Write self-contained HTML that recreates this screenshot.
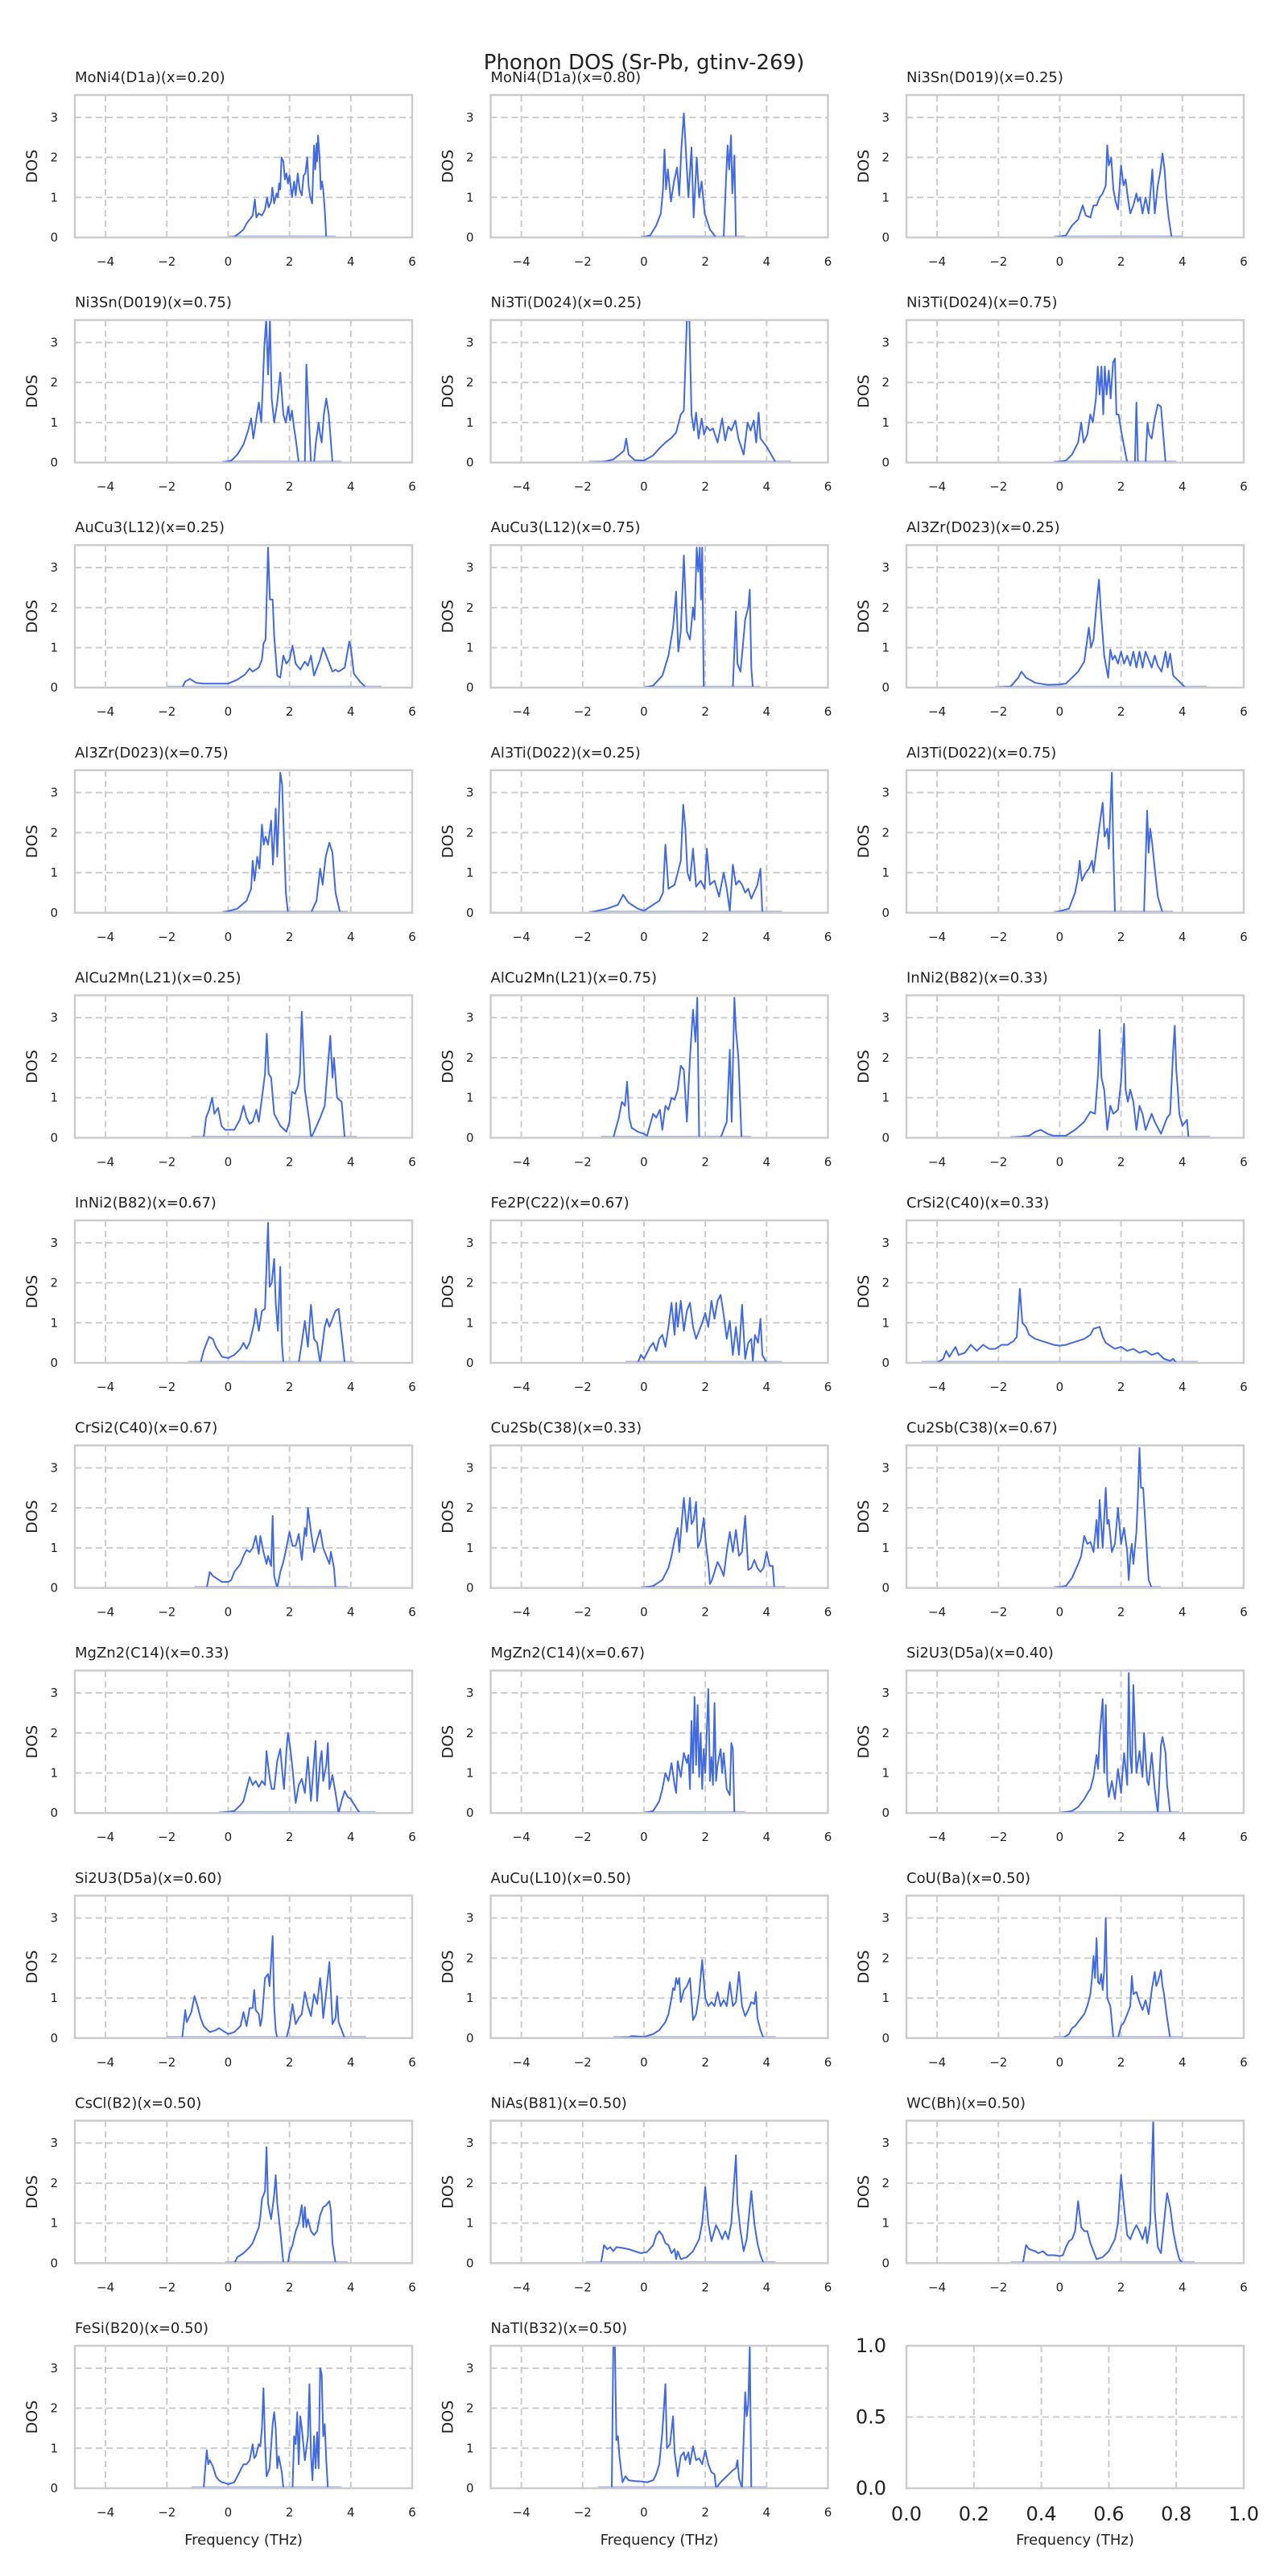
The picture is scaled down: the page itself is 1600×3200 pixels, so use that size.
<!DOCTYPE html>
<html><head><meta charset="utf-8"><style>
html,body{margin:0;padding:0;background:#fff;}
svg{display:block;font-family:"DejaVu Sans","Liberation Sans",sans-serif;}
</style></head><body>
<svg id="fig" width="1600" height="3200" viewBox="0 0 1600 3200" xmlns="http://www.w3.org/2000/svg">
<rect width="1600" height="3200" fill="#fff"/>
<text x="800" y="86" text-anchor="middle" font-size="26" fill="#222">Phonon DOS (Sr-Pb, gtinv-269)</text>
</svg>
<script>
const titles = ["MoNi4(D1a)(x=0.20)","MoNi4(D1a)(x=0.80)","Ni3Sn(D019)(x=0.25)","Ni3Sn(D019)(x=0.75)","Ni3Ti(D024)(x=0.25)","Ni3Ti(D024)(x=0.75)","AuCu3(L12)(x=0.25)","AuCu3(L12)(x=0.75)","Al3Zr(D023)(x=0.25)","Al3Zr(D023)(x=0.75)","Al3Ti(D022)(x=0.25)","Al3Ti(D022)(x=0.75)","AlCu2Mn(L21)(x=0.25)","AlCu2Mn(L21)(x=0.75)","InNi2(B82)(x=0.33)","InNi2(B82)(x=0.67)","Fe2P(C22)(x=0.67)","CrSi2(C40)(x=0.33)","CrSi2(C40)(x=0.67)","Cu2Sb(C38)(x=0.33)","Cu2Sb(C38)(x=0.67)","MgZn2(C14)(x=0.33)","MgZn2(C14)(x=0.67)","Si2U3(D5a)(x=0.40)","Si2U3(D5a)(x=0.60)","AuCu(L10)(x=0.50)","CoU(Ba)(x=0.50)","CsCl(B2)(x=0.50)","NiAs(B81)(x=0.50)","WC(Bh)(x=0.50)","FeSi(B20)(x=0.50)","NaTl(B32)(x=0.50)"];
const xTicks = [-4,-2,0,2,4,6];
const yTicks = [0,1,2,3];
const emptyXTicks = ["0.0","0.2","0.4","0.6","0.8","1.0"];
const emptyYTicks = ["0.0","0.5","1.0"];
// series: [frequency THz, DOS]
const s0=[[0,0],[0.2,0.02],[0.35,0.1],[0.5,0.2],[0.6,0.35],[0.7,0.45],[0.8,0.55],[0.87,0.95],[0.92,0.5],[1.0,0.6],[1.1,0.55],[1.2,0.7],[1.27,1.0],[1.32,0.75],[1.4,0.9],[1.44,1.25],[1.5,0.85],[1.58,1.1],[1.62,1.0],[1.66,1.35],[1.7,1.2],[1.74,2.0],[1.8,1.9],[1.85,1.45],[1.9,1.6],[1.95,1.35],[2.0,1.55],[2.08,1.0],[2.15,1.4],[2.2,1.05],[2.27,1.6],[2.33,1.2],[2.4,1.05],[2.46,1.55],[2.52,1.6],[2.58,2.0],[2.62,1.3],[2.68,1.0],[2.74,0.85],[2.8,2.3],[2.84,1.7],[2.88,2.35],[2.9,1.9],[2.93,2.55],[2.98,2.0],[3.02,1.2],[3.06,1.4],[3.1,1.2],[3.15,0.7],[3.2,0],[3.5,0]];
const s1=[[-0.1,0],[0.2,0.05],[0.4,0.3],[0.55,0.6],[0.62,1.2],[0.67,2.2],[0.72,1.2],[0.78,1.7],[0.88,0.9],[0.98,1.4],[1.08,1.75],[1.15,1.05],[1.22,2.2],[1.3,3.1],[1.36,2.25],[1.45,1.0],[1.55,2.25],[1.62,0.5],[1.72,2.0],[1.8,1.0],[1.88,1.4],[1.98,0.6],[2.15,0.2],[2.35,0],[2.6,0],[2.68,1.5],[2.73,2.3],[2.78,1.7],[2.84,2.55],[2.88,1.1],[2.95,2.05],[3.0,0],[3.3,0]];
const s2=[[-0.2,0],[0.2,0.05],[0.4,0.3],[0.6,0.45],[0.75,0.8],[0.85,0.55],[1.0,0.5],[1.1,0.8],[1.2,0.8],[1.3,1.0],[1.4,1.1],[1.5,1.3],[1.55,2.3],[1.6,1.8],[1.68,2.0],[1.75,1.2],[1.82,0.9],[1.9,0.7],[2.0,1.8],[2.08,1.3],[2.15,1.45],[2.22,1.0],[2.3,0.6],[2.4,0.8],[2.5,1.1],[2.55,0.9],[2.62,1.0],[2.7,0.6],[2.8,1.0],[2.9,0.6],[3.02,1.7],[3.1,0.6],[3.2,1.3],[3.28,1.65],[3.35,2.1],[3.42,1.7],[3.48,1.0],[3.55,0.5],[3.65,0],[4.0,0]];
const s3=[[-0.2,0],[0.1,0.05],[0.3,0.2],[0.5,0.45],[0.65,0.8],[0.75,1.1],[0.82,0.6],[0.9,1.0],[1.0,1.5],[1.08,1.0],[1.18,2.9],[1.24,3.6],[1.3,2.2],[1.36,3.6],[1.42,1.6],[1.5,1.0],[1.6,1.5],[1.7,2.25],[1.8,1.2],[1.88,1.0],[1.96,1.4],[2.02,1.05],[2.08,1.3],[2.14,0.9],[2.2,0.6],[2.3,0],[2.5,0],[2.55,2.45],[2.6,1.6],[2.7,0],[2.8,0],[2.86,0.5],[2.95,1.0],[3.0,0.7],[3.05,0.5],[3.12,1.2],[3.2,1.6],[3.28,1.2],[3.35,0.5],[3.4,0],[3.7,0]];
const s4=[[-1.8,0],[-1.3,0.02],[-1.0,0.08],[-0.8,0.2],[-0.65,0.3],[-0.58,0.6],[-0.5,0.2],[-0.3,0.06],[0,0.05],[0.3,0.18],[0.5,0.35],[0.7,0.5],[0.9,0.62],[1.05,0.75],[1.2,1.2],[1.3,1.3],[1.4,3.6],[1.48,3.6],[1.55,1.2],[1.63,0.8],[1.7,1.25],[1.78,0.6],[1.88,1.1],[1.96,0.7],[2.05,0.9],[2.15,0.8],[2.25,0.85],[2.4,0.5],[2.55,1.1],[2.65,0.55],[2.75,0.9],[2.85,0.8],[2.98,1.05],[3.08,0.6],[3.25,0.2],[3.38,1.0],[3.48,0.8],[3.58,1.05],[3.66,0.5],[3.74,1.25],[3.8,0.6],[4.0,0.4],[4.15,0.2],[4.3,0],[4.8,0]];
const s5=[[-0.2,0],[0.2,0.05],[0.4,0.2],[0.6,0.5],[0.7,1.0],[0.78,0.5],[0.9,0.7],[1.0,1.2],[1.08,1.0],[1.18,1.6],[1.24,2.4],[1.3,1.7],[1.36,2.4],[1.42,1.2],[1.47,2.4],[1.53,1.7],[1.6,2.3],[1.66,1.6],[1.74,2.5],[1.8,2.6],[1.85,1.2],[1.92,1.2],[2.0,0.8],[2.1,0.4],[2.2,0],[2.45,0],[2.5,1.5],[2.55,0],[2.8,0],[2.86,1.0],[2.92,0.7],[3.0,0.6],[3.1,1.1],[3.2,1.45],[3.3,1.4],[3.45,0],[3.8,0]];
const s6=[[-2.0,0],[-1.5,0],[-1.4,0.15],[-1.25,0.22],[-1.05,0.12],[-0.8,0.1],[-0.3,0.1],[0,0.1],[0.3,0.2],[0.55,0.33],[0.7,0.48],[0.8,0.4],[1.0,0.5],[1.1,0.7],[1.15,1.1],[1.22,1.2],[1.3,3.5],[1.36,2.2],[1.45,2.2],[1.5,1.3],[1.6,0.3],[1.7,0.25],[1.8,0.8],[1.9,0.6],[2.0,0.7],[2.1,1.05],[2.2,0.6],[2.35,0.45],[2.5,0.65],[2.6,0.55],[2.7,0.8],[2.8,0.3],[3.0,0.7],[3.1,1.0],[3.2,0.8],[3.3,0.6],[3.4,0.4],[3.5,0.45],[3.6,0.4],[3.8,0.5],[3.95,1.15],[4.0,1.0],[4.1,0.35],[4.3,0.15],[4.5,0],[5.0,0]];
const s7=[[0,0],[0.3,0.05],[0.6,0.3],[0.8,0.8],[0.95,1.5],[1.05,2.4],[1.12,0.9],[1.2,1.4],[1.3,3.3],[1.4,1.4],[1.5,1.2],[1.6,2.0],[1.65,1.7],[1.72,3.5],[1.77,2.9],[1.82,3.5],[1.86,2.2],[1.9,3.5],[1.95,0],[2.9,0],[3.0,1.9],[3.05,0.6],[3.15,0.4],[3.22,1.0],[3.3,1.7],[3.4,2.0],[3.45,2.45],[3.5,0.5],[3.55,0],[3.8,0]];
const s8=[[-2.1,0],[-1.6,0.03],[-1.35,0.25],[-1.25,0.4],[-1.1,0.25],[-0.8,0.12],[-0.4,0.07],[0,0.08],[0.2,0.1],[0.4,0.25],[0.6,0.4],[0.8,0.65],[0.95,1.5],[1.02,1.0],[1.1,1.2],[1.2,2.1],[1.28,2.7],[1.35,1.8],[1.45,0.8],[1.58,0.25],[1.65,0.95],[1.72,0.7],[1.8,0.8],[1.9,0.6],[2.0,0.9],[2.1,0.6],[2.2,0.8],[2.3,0.55],[2.4,0.9],[2.5,0.5],[2.6,0.9],[2.7,0.5],[2.8,0.9],[2.9,0.7],[3.0,0.5],[3.1,0.8],[3.2,0.55],[3.32,0.4],[3.45,0.9],[3.52,0.5],[3.6,0.85],[3.7,0.3],[3.9,0.15],[4.1,0],[4.8,0]];
const s9=[[-0.2,0],[0.3,0.1],[0.6,0.3],[0.75,0.6],[0.8,1.3],[0.86,0.8],[0.95,1.4],[1.02,1.1],[1.1,2.2],[1.16,1.7],[1.22,1.9],[1.3,1.7],[1.4,2.3],[1.46,1.2],[1.55,2.6],[1.6,1.4],[1.7,3.5],[1.76,3.2],[1.8,2.3],[1.88,0.5],[1.95,0],[2.7,0],[2.88,0.3],[3.0,1.1],[3.08,0.7],[3.18,1.4],[3.3,1.75],[3.4,1.5],[3.5,0.5],[3.65,0],[3.9,0]];
const s10=[[-1.8,0],[-1.2,0.1],[-0.85,0.2],[-0.68,0.45],[-0.5,0.25],[-0.2,0.1],[0,0.05],[0.3,0.2],[0.5,0.3],[0.62,0.5],[0.7,1.7],[0.8,0.6],[1.0,0.7],[1.2,1.3],[1.28,2.7],[1.35,2.1],[1.42,1.0],[1.5,0.8],[1.6,1.6],[1.7,0.65],[1.85,0.8],[1.98,0.6],[2.05,1.6],[2.15,0.7],[2.3,0.8],[2.45,0.4],[2.6,1.0],[2.7,0.6],[2.8,0.05],[2.9,1.2],[3.0,0.7],[3.1,0.8],[3.2,0.7],[3.3,0.5],[3.4,0.6],[3.5,0.35],[3.7,0.7],[3.8,1.1],[3.86,0],[4.5,0]];
const s11=[[-0.2,0],[0.3,0.1],[0.5,0.5],[0.6,0.9],[0.65,1.3],[0.72,0.8],[0.85,1.0],[0.95,1.1],[1.05,1.3],[1.1,1.0],[1.2,1.6],[1.3,2.2],[1.4,2.75],[1.46,1.9],[1.55,2.1],[1.6,1.6],[1.7,3.5],[1.75,1.5],[1.8,0],[2.75,0],[2.85,2.55],[2.9,1.5],[2.95,2.1],[3.02,1.7],[3.1,1.1],[3.2,0.4],[3.35,0],[3.7,0]];
const s12=[[-1.2,0],[-0.8,0],[-0.72,0.5],[-0.62,0.7],[-0.52,1.0],[-0.45,0.6],[-0.33,0.75],[-0.22,0.3],[-0.1,0.2],[0.2,0.2],[0.38,0.45],[0.5,0.8],[0.6,0.5],[0.7,0.35],[0.8,0.4],[0.92,0.7],[1.0,0.4],[1.1,1.0],[1.2,1.6],[1.26,2.6],[1.32,1.6],[1.4,1.5],[1.5,0.6],[1.7,0.3],[1.9,0.15],[2.0,0.4],[2.08,1.15],[2.18,1.1],[2.28,1.3],[2.34,1.6],[2.4,3.15],[2.5,1.2],[2.65,0.4],[2.7,0],[2.8,0.15],[3.0,0.5],[3.15,0.8],[3.33,2.55],[3.4,1.5],[3.45,2.0],[3.55,1.0],[3.7,0.9],[3.8,0],[4.2,0]];
const s13=[[-1.4,0],[-1.0,0],[-0.82,0.5],[-0.72,0.9],[-0.62,0.8],[-0.55,1.4],[-0.48,0.5],[-0.4,0.25],[-0.2,0.15],[0,0.1],[0.1,0.05],[0.3,0.6],[0.4,0.5],[0.52,0.7],[0.6,0.2],[0.7,0.8],[0.8,0.7],[0.9,1.0],[1.0,0.95],[1.1,1.2],[1.2,1.8],[1.3,1.7],[1.4,0.4],[1.5,2.0],[1.6,3.2],[1.68,2.4],[1.74,3.5],[1.8,0],[2.5,0],[2.7,0.4],[2.8,2.2],[2.86,0.4],[2.95,3.5],[3.0,2.7],[3.08,2.0],[3.18,0],[3.5,0]];
const s14=[[-1.6,0],[-1.0,0.05],[-0.8,0.15],[-0.62,0.2],[-0.4,0.1],[-0.2,0.05],[0.2,0.05],[0.5,0.2],[0.8,0.4],[1.0,0.65],[1.15,0.6],[1.25,1.6],[1.3,2.7],[1.36,1.5],[1.45,1.2],[1.55,0.2],[1.65,0.8],[1.75,0.6],[1.9,0.7],[2.0,1.4],[2.1,2.85],[2.15,1.2],[2.22,0.9],[2.3,1.2],[2.4,0.9],[2.5,0.2],[2.6,0.8],[2.7,0.6],[2.8,0.2],[3.0,0.6],[3.1,0.4],[3.3,0.1],[3.5,0.5],[3.6,0.6],[3.7,2.2],[3.75,2.8],[3.8,1.7],[3.85,1.2],[3.9,0.6],[4.0,0.3],[4.15,0.45],[4.2,0],[4.9,0]];
const s15=[[-1.3,0],[-0.9,0],[-0.8,0.3],[-0.7,0.5],[-0.62,0.65],[-0.5,0.6],[-0.4,0.4],[-0.2,0.15],[0,0.12],[0.2,0.2],[0.4,0.35],[0.5,0.5],[0.6,0.35],[0.7,0.5],[0.85,1.0],[0.9,1.35],[1.0,0.8],[1.1,1.3],[1.2,1.35],[1.3,3.5],[1.35,1.9],[1.42,2.0],[1.5,2.6],[1.55,1.5],[1.62,0.8],[1.7,2.4],[1.75,0.5],[1.8,0],[2.3,0],[2.4,0.5],[2.5,1.05],[2.6,0.4],[2.7,1.45],[2.8,0.6],[2.9,0.5],[3.0,0],[3.15,0.9],[3.22,1.1],[3.3,0.9],[3.4,1.1],[3.5,1.3],[3.6,1.35],[3.7,0.7],[3.8,0],[4.1,0]];
const s16=[[-0.6,0],[-0.2,0],[-0.1,0.2],[0,0.1],[0.2,0.4],[0.3,0.5],[0.4,0.3],[0.5,0.6],[0.6,0.7],[0.7,0.4],[0.8,0.9],[0.9,1.5],[1.0,0.7],[1.05,1.5],[1.1,0.9],[1.2,1.55],[1.3,0.8],[1.4,1.3],[1.5,1.5],[1.6,0.9],[1.7,0.6],[1.8,0.8],[1.9,1.0],[2.0,1.25],[2.1,0.9],[2.2,1.55],[2.3,1.1],[2.4,1.55],[2.5,1.7],[2.6,1.2],[2.7,0.6],[2.8,1.05],[2.9,0.2],[3.0,0.9],[3.1,0.2],[3.2,1.45],[3.3,0.1],[3.4,0.5],[3.5,0.6],[3.55,0.05],[3.62,0.7],[3.72,0.5],[3.8,1.1],[3.86,0.2],[4.0,0],[4.5,0]];
const s17=[[-4.5,0],[-4.0,0],[-3.8,0.1],[-3.7,0.3],[-3.6,0.15],[-3.4,0.4],[-3.3,0.2],[-3.1,0.25],[-2.9,0.45],[-2.7,0.3],[-2.5,0.45],[-2.3,0.35],[-2.1,0.35],[-1.9,0.45],[-1.7,0.45],[-1.5,0.55],[-1.4,0.65],[-1.3,1.85],[-1.22,1.0],[-1.1,0.9],[-1.0,0.7],[-0.8,0.6],[-0.6,0.55],[-0.4,0.5],[-0.2,0.45],[0,0.43],[0.2,0.45],[0.4,0.5],[0.6,0.55],[0.8,0.6],[1.0,0.7],[1.1,0.85],[1.3,0.9],[1.4,0.65],[1.5,0.5],[1.6,0.45],[1.8,0.35],[2.0,0.4],[2.2,0.3],[2.4,0.35],[2.6,0.25],[2.8,0.3],[3.0,0.2],[3.2,0.25],[3.4,0.1],[3.6,0.05],[3.7,0.1],[3.8,0],[4.5,0]];
const s18=[[-1.1,0],[-0.7,0],[-0.6,0.4],[-0.5,0.3],[-0.3,0.2],[-0.2,0.15],[0,0.15],[0.1,0.2],[0.2,0.4],[0.4,0.6],[0.5,0.8],[0.6,0.95],[0.7,0.9],[0.8,1.0],[0.9,1.3],[1.0,0.85],[1.05,1.3],[1.15,0.9],[1.25,0.6],[1.3,0.8],[1.4,0.55],[1.45,1.8],[1.5,0.3],[1.6,0],[1.7,0.4],[1.8,0.65],[1.9,1.0],[2.0,1.4],[2.1,1.05],[2.2,1.05],[2.3,1.35],[2.4,0.7],[2.5,1.5],[2.55,1.3],[2.6,2.0],[2.7,1.4],[2.8,0.9],[2.9,1.2],[3.0,1.45],[3.1,1.0],[3.2,0.8],[3.3,0.6],[3.35,0.9],[3.45,0.5],[3.5,0],[3.9,0]];
const s19=[[-0.1,0],[0.3,0.05],[0.6,0.2],[0.8,0.5],[0.9,0.8],[1.0,1.2],[1.1,1.5],[1.15,0.9],[1.3,2.25],[1.4,1.4],[1.5,2.25],[1.55,1.6],[1.62,1.7],[1.7,2.15],[1.76,1.0],[1.85,1.2],[1.95,1.75],[2.02,1.1],[2.1,0.6],[2.15,0.1],[2.22,0.2],[2.3,0.4],[2.4,0.65],[2.5,0.5],[2.6,0.3],[2.7,0.9],[2.8,1.4],[2.9,0.9],[3.0,1.45],[3.1,0.8],[3.2,0.9],[3.3,1.8],[3.4,0.45],[3.5,0.5],[3.6,0.7],[3.7,0.5],[3.8,0.4],[3.9,0.5],[4.0,0.9],[4.1,0.55],[4.2,0.55],[4.25,0],[4.6,0]];
const s20=[[-0.2,0],[0.2,0.05],[0.4,0.25],[0.6,0.6],[0.7,0.8],[0.8,1.3],[0.9,1.1],[1.0,1.15],[1.1,0.9],[1.2,1.7],[1.25,1.0],[1.3,2.2],[1.4,1.0],[1.5,2.5],[1.55,1.6],[1.6,1.7],[1.7,0.9],[1.8,1.1],[1.9,2.0],[2.0,1.1],[2.1,1.5],[2.2,0.9],[2.25,0.2],[2.3,0.8],[2.35,1.1],[2.4,0.6],[2.5,1.4],[2.55,2.3],[2.6,3.5],[2.65,2.5],[2.72,2.5],[2.8,1.5],[2.85,0.8],[2.9,0.2],[3.0,0],[3.3,0]];
const s21=[[-0.3,0],[0.2,0.05],[0.4,0.2],[0.5,0.3],[0.6,0.6],[0.7,0.9],[0.8,0.7],[0.9,0.8],[1.0,0.65],[1.1,0.8],[1.2,0.7],[1.25,1.55],[1.3,1.2],[1.35,0.9],[1.42,0.6],[1.5,0.6],[1.6,1.3],[1.7,1.6],[1.75,1.15],[1.82,0.6],[1.9,1.55],[1.95,2.0],[2.02,1.65],[2.1,1.1],[2.2,0.25],[2.3,0.7],[2.4,0.85],[2.5,0.5],[2.6,1.4],[2.7,0.3],[2.8,1.3],[2.85,1.8],[2.9,0.3],[3.0,1.3],[3.05,1.55],[3.1,0.8],[3.2,1.2],[3.25,1.75],[3.3,0.6],[3.4,0.95],[3.5,0.5],[3.6,0],[3.7,0.3],[3.8,0.55],[3.9,0.4],[4.0,0.35],[4.2,0.1],[4.3,0],[4.8,0]];
const s22=[[0,0],[0.3,0.05],[0.5,0.3],[0.6,0.6],[0.7,1.0],[0.8,0.8],[0.9,1.25],[1.0,0.7],[1.05,0.5],[1.1,1.3],[1.2,0.9],[1.3,1.5],[1.4,1.25],[1.45,1.45],[1.5,0.6],[1.55,2.3],[1.6,1.0],[1.65,2.9],[1.7,1.2],[1.75,2.7],[1.8,0.9],[1.85,2.0],[1.9,0.6],[1.95,1.6],[2.0,1.0],[2.05,2.0],[2.1,3.1],[2.15,0.8],[2.2,1.4],[2.25,0.7],[2.3,2.75],[2.35,0.8],[2.4,1.2],[2.5,1.6],[2.55,1.0],[2.6,1.5],[2.7,0.6],[2.8,0.45],[2.85,1.75],[2.9,1.6],[2.95,0],[3.3,0]];
const s23=[[0,0],[0.4,0.05],[0.6,0.15],[0.8,0.35],[0.95,0.55],[1.0,0.6],[1.1,0.9],[1.2,1.45],[1.25,1.1],[1.3,1.9],[1.4,2.85],[1.45,1.0],[1.5,2.7],[1.55,0.8],[1.6,0.4],[1.7,0.8],[1.8,0.35],[1.9,1.1],[2.0,0.5],[2.1,1.5],[2.2,0.7],[2.25,3.5],[2.3,1.4],[2.35,1.0],[2.4,3.2],[2.5,1.0],[2.6,1.55],[2.7,0.9],[2.75,2.0],[2.85,0.8],[2.9,0.7],[3.0,1.5],[3.1,0.6],[3.2,0],[3.3,1.7],[3.35,1.9],[3.45,1.5],[3.5,0.7],[3.6,0],[3.9,0]];
const s24=[[-2.0,0],[-1.5,0],[-1.4,0.7],[-1.35,0.4],[-1.2,0.65],[-1.1,1.05],[-1.0,0.8],[-0.9,0.5],[-0.8,0.3],[-0.6,0.15],[-0.4,0.2],[-0.3,0.25],[-0.2,0.2],[0,0.1],[0.2,0.15],[0.4,0.3],[0.5,0.65],[0.6,0.3],[0.7,0.75],[0.8,0.75],[0.85,1.2],[0.9,0.7],[1.0,0.6],[1.05,0.3],[1.1,0.5],[1.2,1.5],[1.3,1.6],[1.35,1.3],[1.45,2.55],[1.5,0.8],[1.55,0.2],[1.6,0],[1.9,0],[2.0,0.3],[2.1,0.85],[2.2,0.35],[2.3,0.5],[2.4,0.6],[2.5,1.15],[2.6,0.8],[2.7,0.55],[2.8,1.1],[2.9,0.85],[3.0,1.5],[3.05,1.1],[3.1,0.5],[3.2,1.15],[3.3,1.9],[3.4,0.35],[3.5,0.5],[3.55,1.05],[3.6,0.4],[3.7,0.2],[3.8,0],[4.5,0]];
const s25=[[-1.0,0],[-0.5,0.02],[-0.4,0.05],[0,0.03],[0.3,0.1],[0.5,0.2],[0.7,0.4],[0.8,0.6],[0.9,1.0],[0.95,1.25],[1.0,1.2],[1.05,1.5],[1.1,1.35],[1.15,1.5],[1.2,0.9],[1.3,1.2],[1.4,1.3],[1.5,1.5],[1.6,0.45],[1.7,0.6],[1.8,1.1],[1.9,1.95],[2.0,1.0],[2.1,0.8],[2.2,0.9],[2.3,0.8],[2.4,1.15],[2.5,0.8],[2.6,0.95],[2.7,0.8],[2.8,1.4],[2.9,0.8],[3.0,0.9],[3.1,1.65],[3.2,0.8],[3.3,0.55],[3.4,0.7],[3.5,0.9],[3.6,0.85],[3.65,1.15],[3.7,0.5],[3.8,0.2],[3.9,0],[4.3,0]];
const s26=[[-0.2,0],[0.1,0],[0.3,0.1],[0.4,0.25],[0.5,0.3],[0.6,0.4],[0.7,0.5],[0.8,0.6],[0.9,0.8],[1.0,1.1],[1.05,1.5],[1.1,2.05],[1.15,1.5],[1.2,2.5],[1.25,1.4],[1.3,1.35],[1.35,1.6],[1.4,1.2],[1.45,1.7],[1.5,3.0],[1.55,1.0],[1.65,0.8],[1.75,0],[1.9,0],[2.0,0.3],[2.1,0.4],[2.2,0.6],[2.3,0.8],[2.35,1.55],[2.4,1.1],[2.5,1.15],[2.6,0.9],[2.7,0.7],[2.8,0.95],[2.9,0.6],[3.0,1.2],[3.1,1.65],[3.15,1.3],[3.2,1.4],[3.3,1.7],[3.35,1.3],[3.4,1.1],[3.5,0.5],[3.6,0],[4.0,0]];
const s27=[[-0.1,0],[0.2,0],[0.3,0.15],[0.5,0.25],[0.7,0.4],[0.8,0.5],[1.0,0.9],[1.05,1.15],[1.1,1.6],[1.2,1.8],[1.25,2.9],[1.3,1.5],[1.4,1.1],[1.5,1.7],[1.55,2.2],[1.6,1.5],[1.7,0.8],[1.8,0],[1.95,0],[2.0,0.25],[2.1,0.45],[2.2,0.8],[2.3,1.0],[2.4,1.45],[2.45,0.9],[2.5,1.4],[2.55,0.9],[2.6,1.1],[2.7,0.8],[2.8,0.7],[2.9,0.8],[3.0,1.2],[3.1,1.4],[3.2,1.45],[3.3,1.55],[3.35,1.3],[3.4,0.5],[3.5,0],[3.9,0]];
const s28=[[-1.9,0],[-1.4,0],[-1.3,0.45],[-1.2,0.35],[-1.1,0.4],[-1.0,0.3],[-0.9,0.4],[-0.7,0.38],[-0.5,0.35],[-0.3,0.3],[-0.1,0.25],[0.1,0.28],[0.3,0.45],[0.4,0.7],[0.5,0.8],[0.6,0.7],[0.7,0.5],[0.8,0.45],[0.9,0.25],[1.0,0.35],[1.05,0.1],[1.1,0.3],[1.2,0.1],[1.4,0.15],[1.6,0.3],[1.8,0.6],[1.9,1.0],[2.0,1.9],[2.1,1.0],[2.2,0.55],[2.35,0.95],[2.45,0.8],[2.55,0.6],[2.65,0.8],[2.75,0.6],[2.85,1.0],[3.0,2.7],[3.05,1.5],[3.15,0.8],[3.25,0.3],[3.35,0.6],[3.5,1.8],[3.6,1.0],[3.7,0.5],[3.8,0.2],[3.9,0],[4.3,0]];
const s29=[[-1.6,0],[-1.2,0],[-1.1,0.45],[-1.0,0.35],[-0.8,0.3],[-0.7,0.25],[-0.55,0.3],[-0.4,0.2],[-0.2,0.2],[0,0.18],[0.1,0.2],[0.2,0.4],[0.3,0.55],[0.4,0.6],[0.5,0.8],[0.6,1.55],[0.7,0.9],[0.8,0.8],[0.9,0.8],[1.0,0.5],[1.1,0.3],[1.2,0.1],[1.4,0.15],[1.6,0.3],[1.8,0.6],[1.9,1.0],[2.0,2.2],[2.1,1.4],[2.2,0.7],[2.3,0.6],[2.4,0.8],[2.5,0.95],[2.6,0.8],[2.7,0.6],[2.8,0.9],[2.85,0.5],[2.95,1.0],[3.05,3.6],[3.1,1.3],[3.2,0.4],[3.3,0.25],[3.45,1.4],[3.5,1.75],[3.6,1.4],[3.7,0.8],[3.8,0.4],[3.9,0.1],[4.0,0],[4.4,0]];
const s30=[[-1.2,0],[-0.8,0],[-0.7,0.95],[-0.65,0.6],[-0.6,0.7],[-0.5,0.55],[-0.4,0.3],[-0.3,0.2],[-0.2,0.15],[-0.1,0.13],[0,0.1],[0.2,0.15],[0.3,0.3],[0.4,0.45],[0.5,0.6],[0.6,0.6],[0.7,0.7],[0.8,1.1],[0.85,0.75],[0.9,0.8],[1.0,1.1],[1.05,1.05],[1.1,1.5],[1.15,2.5],[1.2,1.2],[1.25,0.3],[1.35,0.5],[1.45,1.6],[1.5,1.9],[1.55,1.5],[1.6,0.5],[1.65,0.8],[1.75,0.4],[1.8,0],[2.1,0],[2.15,1.3],[2.2,1.1],[2.25,1.9],[2.3,0.6],[2.35,1.8],[2.4,1.5],[2.5,0.7],[2.6,1.3],[2.65,2.6],[2.7,0.8],[2.75,0.2],[2.8,1.3],[2.85,0.5],[2.9,1.4],[2.95,0.5],[3.0,3.0],[3.05,2.85],[3.1,1.3],[3.15,1.6],[3.2,0.7],[3.25,0],[3.7,0]];
const s31=[[-1.5,0],[-1.05,0],[-1.0,3.6],[-0.95,3.6],[-0.9,1.2],[-0.85,1.3],[-0.8,0.8],[-0.7,0.15],[-0.6,0.3],[-0.5,0.2],[-0.3,0.18],[-0.1,0.17],[0.1,0.15],[0.3,0.2],[0.4,0.35],[0.5,0.6],[0.6,1.4],[0.7,2.6],[0.75,1.0],[0.85,1.1],[0.95,1.8],[1.0,0.9],[1.1,0.3],[1.2,0.8],[1.3,0.9],[1.35,0.7],[1.45,0.9],[1.5,0.6],[1.6,1.05],[1.7,0.7],[1.8,0.75],[1.9,0.6],[2.0,0.95],[2.1,0.6],[2.2,0.4],[2.3,0.35],[2.35,0],[2.5,0.15],[2.7,0.3],[2.9,0.45],[3.0,0.5],[3.05,0.7],[3.1,0.25],[3.2,0],[3.3,2.4],[3.35,1.8],[3.4,2.1],[3.45,3.6],[3.5,0],[4.0,0]];
const series=[s0,s1,s2,s3,s4,s5,s6,s7,s8,s9,s10,s11,s12,s13,s14,s15,s16,s17,s18,s19,s20,s21,s22,s23,s24,s25,s26,s27,s28,s29,s30,s31];

const NS="http://www.w3.org/2000/svg";
const svg=document.getElementById('fig');
const AX_W=419, AX_H=177, X0=93, Y0=118, DX=516.5, DY=279.6;
const XMIN=-5, XMAX=6, YMAX=3.56;
function mk(tag,attrs,parent){const e=document.createElementNS(NS,tag);for(const k in attrs)e.setAttribute(k,attrs[k]);parent.appendChild(e);return e;}

for(let i=0;i<33;i++){
  const r=Math.floor(i/3), c=i%3;
  const L=X0+c*DX, T=Y0+r*DY, B=T+AX_H, R=L+AX_W;
  const g=mk('g',{},svg);
  
  
  const empty = i===32;
  const sx = empty ? (v=>L+v*AX_W) : (v=>L+(v-XMIN)/(XMAX-XMIN)*AX_W);
  const sy = empty ? (v=>B-v*AX_H) : (v=>B-v/YMAX*AX_H);
  // grid
  const gx = empty ? [0.2,0.4,0.6,0.8] : xTicks.filter(t=>t>XMIN&&t<XMAX);
  const gy = empty ? [0.5] : yTicks.filter(t=>t>0);
  gx.forEach(t=>{const ln=mk('line',{x1:sx(t),x2:sx(t),y1:T,y2:B,stroke:'#cccccc','stroke-width':2,'stroke-dasharray':'8,5'},g);
    
    });
  gy.forEach(t=>{const ln=mk('line',{x1:L,x2:R,y1:sy(t),y2:sy(t),stroke:'#cccccc','stroke-width':2,'stroke-dasharray':'8,5'},g);
    
    });
  // data
  if(!empty){
    const id='clip'+i;
    const cp=mk('clipPath',{id:id},g); mk('rect',{x:L,y:T,width:AX_W,height:AX_H},cp);
    const d=series[i];
    const base=mk('line',{x1:sx(d[0][0]),x2:sx(d[d.length-1][0]),y1:sy(0)-1.5,y2:sy(0)-1.5,stroke:'#a9b9ee','stroke-width':2},g);
    
    
    const pts=d.map(p=>sx(p[0]).toFixed(1)+','+sy(p[1]).toFixed(1)).join(' ');
    const pl=mk('polyline',{points:pts,fill:'none',stroke:'#4169e1','stroke-width':2,'stroke-linejoin':'round','clip-path':'url(#'+id+')'},g);
    
    
    const tt=mk('text',{x:L,y:T-16,'font-size':18,fill:'#222'},g); tt.textContent=titles[i];
    
    
  }
  // frame
  const fr=mk('rect',{x:L,y:T,width:AX_W,height:AX_H,fill:'none',stroke:'#cccccc','stroke-width':2.5},g);
  
  
  // tick labels
  if(!empty){
    xTicks.forEach(t=>{const tx=mk('text',{x:sx(t),y:B+35,'font-size':15,'text-anchor':'middle',fill:'#222'},g);
      tx.textContent=(t<0?'\u2212'+(-t):String(t));
      
      });
    yTicks.forEach(t=>{const ty=mk('text',{x:L-21,y:sy(t)+5,'font-size':15,'text-anchor':'end',fill:'#222'},g);
      ty.textContent=String(t);
      
      });
    const yl=mk('text',{x:0,y:0,'font-size':19,'text-anchor':'middle',fill:'#222',transform:'translate('+(L-47)+','+((T+B)/2)+') rotate(-90)'},g);
    yl.textContent='DOS';
    
    
  } else {
    emptyXTicks.forEach((t,k)=>{const tx=mk('text',{x:sx(k*0.2),y:B+40,'font-size':24,'text-anchor':'middle',fill:'#222'},g);
      tx.textContent=t;
      
      });
    emptyYTicks.forEach((t,k)=>{const ty=mk('text',{x:L-25,y:sy(k*0.5)+8,'font-size':24,'text-anchor':'end',fill:'#222'},g);
      ty.textContent=t;
      
      });
  }
  if(i>=30){
    const xl=mk('text',{x:(L+R)/2,y:B+70,'font-size':18,'text-anchor':'middle',fill:'#222'},g);
    xl.textContent='Frequency (THz)';
    
    
  }
}
</script>
</body></html>
